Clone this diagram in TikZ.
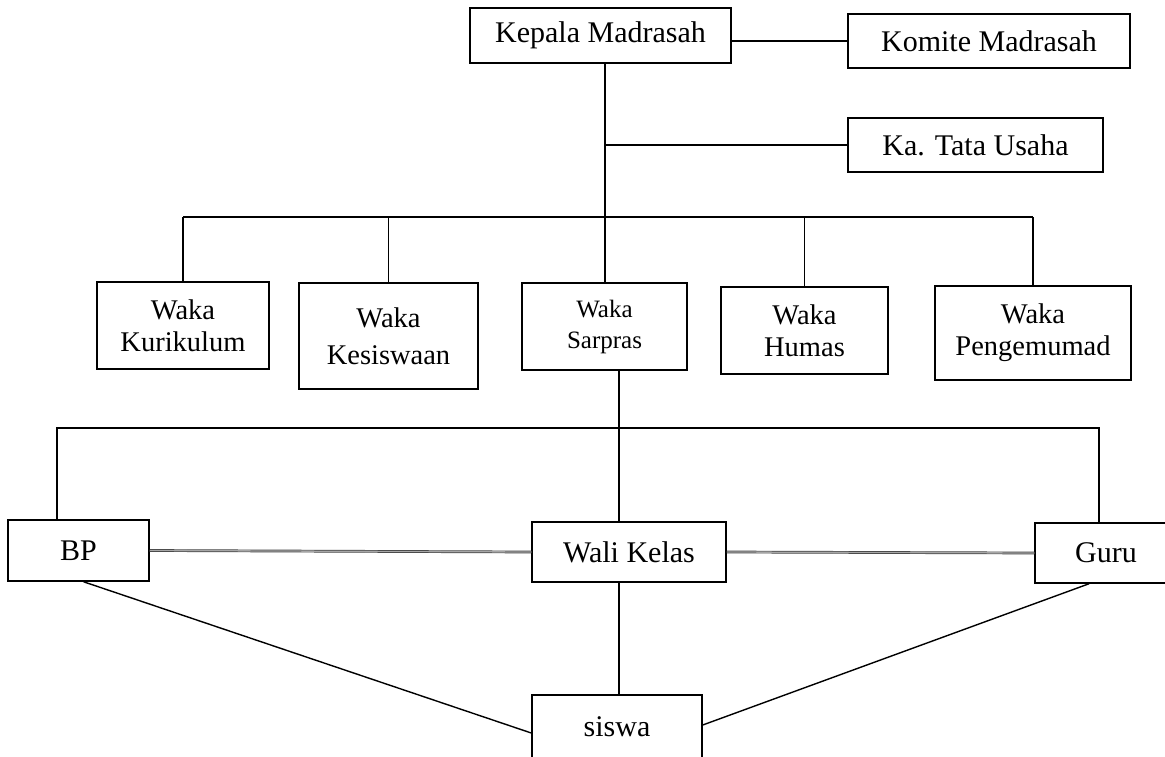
\documentclass[tikz,border=0pt]{standalone}
\usepackage{fontspec}
\setmainfont{Liberation Serif}
\begin{document}
\begin{tikzpicture}[x=1pt,y=-1pt,
  box/.style={draw=black, line width=1.5pt, inner sep=0pt, align=center},
  big/.style={font=\fontsize{30}{34}\selectfont},
  waka/.style={font=\fontsize{28.5}{32}\selectfont},
  conn/.style={draw=black, line width=1.4pt},
  dbl/.style={draw=black!75, line width=0.7pt, double=black!35, double distance=1.3pt}]
\useasboundingbox (0,0) rectangle (1165,757);
\clip (0,0) rectangle (1165,757);
% top level
\node[box,big,minimum width=261pt,minimum height=55pt] (kepala) at (600.5,35.5) {Kepala Madrasah};
\node[box,big,minimum width=282pt,minimum height=54pt] (komite) at (989,41) {Komite Madrasah};
\node[box,big,minimum width=255pt,minimum height=54pt] (tata) at (975.5,145) {Ka. Tata Usaha};
% waka row
\node[box,waka,minimum width=172pt,minimum height=87pt] (kur) at (183,325.5) {Waka\\Kurikulum};
\node[box,font=\fontsize{28.5}{37}\selectfont,minimum width=179pt,minimum height=106pt] (kes) at (388.5,336) {Waka\\Kesiswaan};
\node[box,font=\fontsize{25}{31}\selectfont,minimum width=165pt,minimum height=87pt] (sar) at (604.5,326.5) {Waka\\Sarpras};
\node[box,waka,minimum width=167pt,minimum height=87pt] (hum) at (804.5,330.5) {Waka\\Humas};
\node[box,waka,minimum width=196pt,minimum height=94pt] (pen) at (1033,333) {Waka\\Pengemumad};
% bottom level
\node[box,big,minimum width=141pt,minimum height=61pt] (bp) at (78.5,550.5) {BP};
\node[box,big,minimum width=194pt,minimum height=60pt] (wali) at (629,552) {Wali Kelas};
\node[box,big,minimum width=142pt,minimum height=60pt] (guru) at (1106,553) {Guru};
\node[box,big,minimum width=170pt,minimum height=64pt] (siswa) at (617,727) {siswa};
% junction coordinates
\coordinate (t1) at (605,217);
\coordinate (b2) at (619,428);
\coordinate (lb) at (57,428);
\coordinate (rb) at (1099,428);
% connectors, top
\draw[conn] (kepala.east |- komite.west) -- (komite.west);
\draw[conn] (kepala.south -| t1) -- (t1);
\draw[conn] (tata.west -| t1) -- (tata.west);
\draw[conn] (kur.north |- t1) -- (pen.north |- t1);
\draw[conn] (kur.north |- t1) -- (kur.north);
\draw[conn] (kes.north |- t1) -- (kes.north);
\draw[conn] (t1) -- (sar.north -| t1);
\draw[conn] (hum.north |- t1) -- (hum.north);
\draw[conn] (pen.north |- t1) -- (pen.north);
% connectors, bottom
\draw[conn] (sar.south -| b2) -- (b2);
\draw[conn] (bp.north -| lb) -- (lb) -- (rb) -- (guru.north -| rb);
\draw[conn] (b2) -- (wali.north -| b2);
\draw[conn] (wali.south -| b2) -- (siswa.north -| b2);
\draw[dbl] (bp.east) -- (wali.west);
\draw[dbl] (wali.east) -- (guru.west);
\draw[conn] ([xshift=5pt]bp.south) -- ([yshift=-6pt]siswa.west);
\draw[conn] ([xshift=-17pt]guru.south) -- ([yshift=2pt]siswa.east);
\end{tikzpicture}
\end{document}
